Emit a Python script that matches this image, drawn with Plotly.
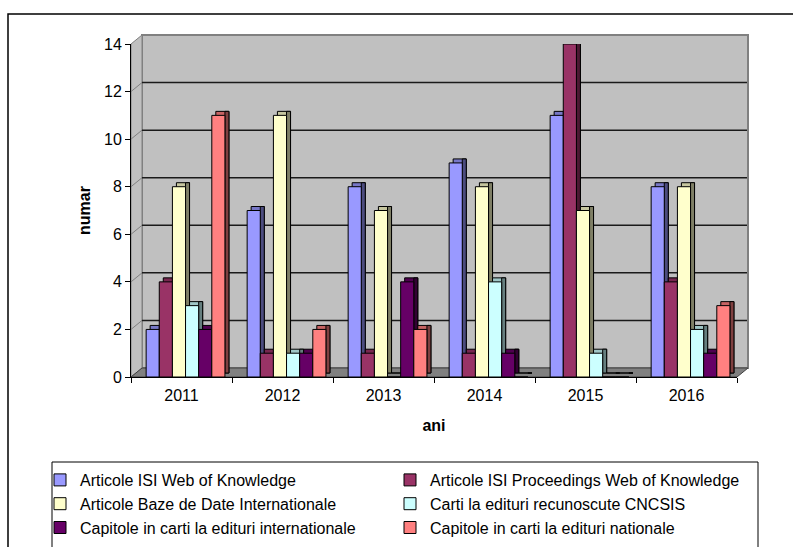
import plotly.graph_objects as go

years = ["2011", "2012", "2013", "2014", "2015", "2016"]
series_names = [
    "Articole ISI Web of Knowledge",
    "Articole ISI Proceedings Web of Knowledge",
    "Articole Baze de Date Internationale",
    "Carti la edituri recunoscute CNCSIS",
    "Capitole in carti la edituri internationale",
    "Capitole in carti la edituri nationale",
]
isi_web = [2, 7, 8, 9, 11, 8]
isi_proc = [4, 1, 1, 1, 14, 4]
baze_date = [8, 11, 7, 8, 7, 8]
carti_cncsis = [3, 1, 0, 4, 1, 2]
cap_internat = [2, 1, 4, 1, 0, 1]
cap_nat = [11, 2, 2, 0, 0, 3]
colors = ["#9999FF", "#993366", "#FFFFCC", "#CCFFFF", "#660066", "#FF8080"]
y_ticks = [0, 2, 4, 6, 8, 10, 12, 14]

all_values = [isi_web, isi_proc, baze_date, carti_cncsis, cap_internat, cap_nat]

# ---- geometry of the figure (pixels) ----
W, H = 793, 547
L, R, T, B = 131, 56, 44, 170
pw = W - L - R
ph = H - T - B
Y_MAX = 14
px_per_unit = ph / Y_MAX
DEPTH_PX_X = 4
DEPTH_PX_Y = 4
WALL_DX, WALL_DY = 11, 9

def px_x(x):
    return (x - L) / pw

def px_y(y):
    return (H - B - y) / ph

def shade(hexcol, f):
    h = hexcol.lstrip("#")
    r, g, b = (int(h[i:i + 2], 16) for i in (0, 2, 4))
    return "rgb(%d,%d,%d)" % (int(r * f), int(g * f), int(b * f))

bar_w = 0.13
start = -0.35
dx = DEPTH_PX_X / (pw / len(years))
dy = DEPTH_PX_Y / px_per_unit

fig = go.Figure()
for i, (name, vals, col) in enumerate(zip(series_names, all_values, colors)):
    off = start + i * bar_w
    line = dict(color="black", width=1)
    # top face (shifted back)
    fig.add_trace(go.Bar(
        x=years, y=vals, base=dy, offset=off + dx, width=bar_w,
        marker=dict(color=shade(col, 0.78), line=line),
        showlegend=False, hoverinfo="skip",
    ))
    # side face
    fig.add_trace(go.Bar(
        x=years, y=vals, base=dy, offset=off + bar_w, width=dx,
        marker=dict(color=shade(col, 0.5), line=line),
        showlegend=False, hoverinfo="skip",
    ))
    # front face
    fig.add_trace(go.Bar(
        x=years, y=vals, offset=off, width=bar_w, name=name,
        marker=dict(color=col, line=line),
        legend="legend" if i % 2 == 0 else "legend2",
    ))

shapes = [
    # outer chart frame
    dict(type="rect", xref="paper", yref="paper",
         x0=px_x(8), y0=px_y(14), x1=px_x(820), y1=px_y(600),
         line=dict(color="black", width=1.5), layer="below"),
    # legend frame
    dict(type="rect", xref="paper", yref="paper",
         x0=px_x(52), y0=px_y(462), x1=px_x(758), y1=px_y(600),
         line=dict(color="black", width=1), fillcolor="white", layer="below"),
    # back wall
    dict(type="rect", xref="paper", yref="paper",
         x0=px_x(L + WALL_DX), y0=px_y(T - WALL_DY), x1=px_x(W - R + WALL_DX),
         y1=px_y(H - B - WALL_DY),
         line=dict(color="#808080", width=2), fillcolor="#C0C0C0", layer="below"),
    # side wall
    dict(type="path", xref="paper", yref="paper",
         path="M%f,%f L%f,%f L%f,%f L%f,%f Z" % (
             px_x(L), px_y(T), px_x(L + WALL_DX), px_y(T - WALL_DY),
             px_x(L + WALL_DX), px_y(H - B - WALL_DY), px_x(L), px_y(H - B)),
         line=dict(color="#808080", width=1), fillcolor="#C0C0C0", layer="below"),
    # floor
    dict(type="path", xref="paper", yref="paper",
         path="M%f,%f L%f,%f L%f,%f L%f,%f Z" % (
             px_x(L), px_y(H - B), px_x(L + WALL_DX), px_y(H - B - WALL_DY),
             px_x(W - R + WALL_DX), px_y(H - B - WALL_DY), px_x(W - R), px_y(H - B)),
         line=dict(color="#404040", width=1), fillcolor="#808080", layer="below"),
]
wall_shift = WALL_DY / px_per_unit
for k in y_ticks[1:-1]:
    shapes.append(dict(type="line", xref="paper", yref="y",
                       x0=px_x(L + WALL_DX), x1=px_x(W - R + WALL_DX - 1),
                       y0=k + wall_shift, y1=k + wall_shift,
                       line=dict(color="#1a1a1a", width=1.5), layer="below"))
    shapes.append(dict(type="line", xref="paper", yref="y",
                       x0=px_x(L), x1=px_x(L + WALL_DX),
                       y0=k, y1=k + wall_shift,
                       line=dict(color="#808080", width=1), layer="below"))

font_family = "Liberation Sans, Arial, sans-serif"
fig.update_layout(
    width=W, height=H,
    margin=dict(l=L, r=R, t=T, b=B, autoexpand=False),
    paper_bgcolor="white",
    plot_bgcolor="rgba(0,0,0,0)",
    barmode="overlay",
    font=dict(family=font_family, color="black", size=16),
    xaxis=dict(
        title=dict(text="<b>ani</b>", font=dict(size=16), standoff=16),
        range=[-0.5, 5.5],
        showline=True, linecolor="black", linewidth=1,
        ticks="outside", ticklen=5, tickcolor="black", tickson="boundaries",
        ticklabelstandoff=4,
        showgrid=False, tickfont=dict(size=16),
    ),
    yaxis=dict(
        title=dict(text="<b>numar</b>", font=dict(size=16), standoff=9),
        range=[0, Y_MAX], tickvals=y_ticks,
        showline=True, linecolor="black", linewidth=1,
        ticks="outside", ticklen=5, tickcolor="black",
        showgrid=False, zeroline=False, tickfont=dict(size=16),
    ),
    legend=dict(
        orientation="v",
        x=px_x(40), y=px_y(463), xanchor="left", yanchor="top",
        borderwidth=0, bgcolor="rgba(0,0,0,0)",
        font=dict(size=16), itemwidth=30, tracegroupgap=0,
    ),
    legend2=dict(
        orientation="v",
        x=px_x(390), y=px_y(463), xanchor="left", yanchor="top",
        borderwidth=0, bgcolor="rgba(0,0,0,0)",
        font=dict(size=16), itemwidth=30, tracegroupgap=0,
    ),
    shapes=shapes,
)

fig.write_html("out.html", config={"displayModeBar": False},
               post_script="document.body.style.margin='0px';")
